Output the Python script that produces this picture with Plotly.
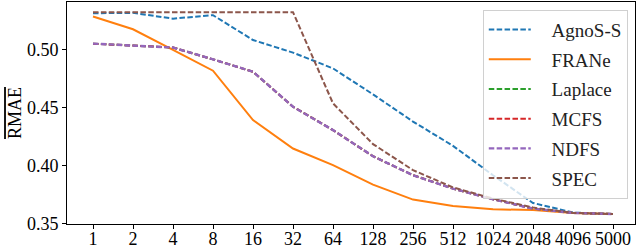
import plotly.graph_objects as go

x_labels = ["1", "2", "4", "8", "16", "32", "64", "128", "256", "512", "1024", "2048", "4096", "5000"]

agnos_s = [0.5317, 0.5320, 0.5270, 0.5300, 0.5085, 0.4976, 0.4840, 0.4615, 0.4380, 0.4170, 0.3916, 0.3676, 0.3593, 0.3580]
frane = [0.5288, 0.5178, 0.5000, 0.4820, 0.4393, 0.4147, 0.4003, 0.3835, 0.3705, 0.3650, 0.3621, 0.3615, 0.3590, 0.3580]
laplace = [0.5054, 0.5034, 0.5020, 0.4918, 0.4811, 0.4508, 0.4306, 0.4080, 0.3916, 0.3800, 0.3708, 0.3627, 0.3590, 0.3580]
mcfs = [0.5054, 0.5034, 0.5020, 0.4918, 0.4811, 0.4508, 0.4306, 0.4080, 0.3916, 0.3800, 0.3708, 0.3627, 0.3590, 0.3580]
ndfs = [0.5054, 0.5034, 0.5020, 0.4918, 0.4811, 0.4508, 0.4306, 0.4080, 0.3916, 0.3800, 0.3708, 0.3627, 0.3590, 0.3580]
spec = [0.5326, 0.5326, 0.5326, 0.5326, 0.5326, 0.5326, 0.4537, 0.4185, 0.3960, 0.3810, 0.3714, 0.3636, 0.3590, 0.3580]

y_ticks = [0.35, 0.40, 0.45, 0.50]
y_tick_labels = ["0.35", "0.40", "0.45", "0.50"]

series = [
    ("AgnoS-S", agnos_s, "#1f77b4", "5.5px,2.4px", 2),
    ("FRANe", frane, "#ff7f0e", "solid", 2),
    ("Laplace", laplace, "#2ca02c", "5.5px,2.4px", 2),
    ("MCFS", mcfs, "#d62728", "5.5px,2.4px", 2),
    ("NDFS", ndfs, "#9467bd", "5.5px,2.4px", 2.4),
    ("SPEC", spec, "#8c564b", "5.5px,2.4px", 2),
]

font_family = "Liberation Serif"
fsize = 18

fig = go.Figure()
xs = list(range(len(x_labels)))
for name, vals, color, dash, w in series:
    fig.add_trace(go.Scatter(
        x=xs, y=vals, mode="lines", name="\u2002\u2004" + name,
        line=dict(color=color, dash=dash, width=w),
        legendgroup=name,
    ))

fig.update_layout(
    width=640, height=248,
    margin=dict(l=67, r=5, t=2, b=24, autoexpand=False),
    plot_bgcolor="white", paper_bgcolor="white",
    font=dict(family=font_family, size=fsize, color="black"),
    showlegend=True,
    legend=dict(
        x=0.732, y=0.965, xanchor="left", yanchor="top",
        bgcolor="rgba(255,255,255,0.8)", bordercolor="#d0d0d0", borderwidth=1,
        font=dict(family=font_family, size=19, color="#222"),
        itemwidth=42, tracegroupgap=2,
    ),
    xaxis=dict(
        range=[-0.65, 13.55], automargin=False,
        tickmode="array", tickvals=xs, ticktext=x_labels, tickangle=0,
        ticks="outside", ticklen=4, tickcolor="black", tickwidth=1,
        ticklabelstandoff=-6,
        showline=True, linecolor="black", linewidth=1, mirror=True,
        showgrid=False, zeroline=False,
        tickfont=dict(family=font_family, size=fsize, color="black"),
    ),
    yaxis=dict(
        range=[0.3494, 0.5414], automargin=False,
        tickmode="array", tickvals=y_ticks, ticktext=y_tick_labels,
        ticks="outside", ticklen=4, tickcolor="black", tickwidth=1,
        showline=True, linecolor="black", linewidth=1, mirror=True,
        showgrid=False, zeroline=False,
        tickfont=dict(family=font_family, size=fsize, color="black"),
        title=dict(text="<span style='text-decoration: overline'>RMAE</span>",
                   font=dict(family=font_family, size=fsize, color="black"), standoff=0),
    ),
)

fig.write_html(
    "out.html",
    config={"displayModeBar": False},
    post_script="document.body.style.margin='0px';document.body.style.padding='0px';",
)
